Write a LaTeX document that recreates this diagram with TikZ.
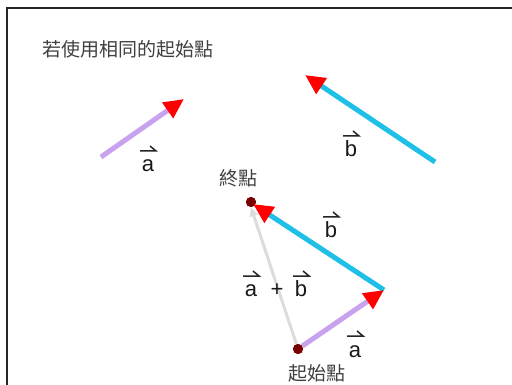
\documentclass[tikz,border=0pt]{standalone}
\usepackage{fontspec}
\setmainfont{Liberation Sans}
\newfontfamily\cjk{Noto Sans CJK TC}
\usetikzlibrary{arrows.meta}
\definecolor{vpurple}{HTML}{C8A2EE}
\definecolor{vcyan}{HTML}{1EC0E8}
\definecolor{vgray}{HTML}{DCDCDC}
\definecolor{dotred}{HTML}{7A0000}
\definecolor{txtgray}{HTML}{404040}
\tikzset{
  vl/.style={anchor=base, inner sep=0pt, font=\fontsize{22}{22}\selectfont, text=black!90},
  harp/.style={line width=1.5pt, black!85, line join=miter},
  vecarrow/.style={line width=5pt, -{Triangle[length=20pt,width=18pt,color=red]}},
  apurple/.style={vecarrow, vpurple},
  acyan/.style={vecarrow, vcyan},
  dotn/.style={circle, fill=dotred, inner sep=0pt, minimum size=10pt},
  cjklab/.style={font=\cjk\fontsize{19}{19}\selectfont, text=txtgray, inner sep=0pt},
}
\newcommand\vecnode[4]{%
  \node[vl] (#1) at (#2,#3) {#4};
  \draw[harp] ([shift={(-8,-21)}]#1.base) -- ++(16,0) -- ++(-6,-5);
}
\begin{document}
\begin{tikzpicture}[x=1pt,y=-1pt]
\useasboundingbox (0,0) rectangle (512,385);
\fill[white] (0,0) rectangle (512,385);
\draw[line width=1.5pt, black!85] (7,385) -- (7,8) -- (512,8);

\node[cjklab, anchor=west] (title) at (42,49) {若使用相同的起始點};

% top vectors
\coordinate (a1) at (101,157);
\coordinate (a2) at (184,99);
\draw[apurple] (a1) -- (a2);
\coordinate (b1) at (435,162);
\coordinate (b2) at (305,75);
\draw[acyan] (b1) -- (b2);
\vecnode{la1}{148}{172}{a}
\vecnode{lb1}{351}{157}{b}

% bottom triangle
\node[dotn] (s) at (298,349) {};
\node[dotn] (e) at (251,202) {};
\coordinate (m) at (384,290);
\coordinate (btip) at (253,204);
\draw[line width=3pt, vgray, -{Triangle[length=9pt,width=8pt]}] (s) -- (e.south);
\node[dotn] at (e) {};
\draw[acyan] (m) -- (btip);
\draw[apurple] (s) -- (m);
\node[dotn] at (s) {};

\node[cjklab] (endlab) at (238,178) {終點};
\node[cjklab] (startlab) at (317,373) {起始點};

\vecnode{lb2}{331}{238}{b}
\vecnode{la3}{251}{297}{a}
\node[vl] (plus) at (277,297) {+};
\vecnode{lb3}{301}{297}{b}
\vecnode{la2}{355}{357}{a}
\end{tikzpicture}
\end{document}
